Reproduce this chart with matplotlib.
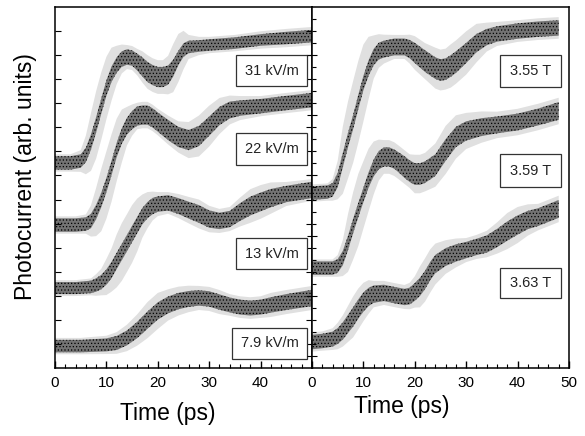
import numpy as np
import matplotlib
matplotlib.use("Agg")
import matplotlib.pyplot as plt
from matplotlib.patches import Rectangle

plt.rcParams['font.family'] = ['Liberation Sans', 'DejaVu Sans']
plt.rcParams['hatch.color'] = 'black'
plt.rcParams['hatch.linewidth'] = 0.5

# traces: time (ps), centre of the band (arb. units),
# half width of the dense core and half width of the sparse scatter
t_31 = [0, 3, 5, 6, 7, 8, 9, 10, 11, 12, 13, 14, 15, 16, 17, 18, 19, 20, 21, 22,
        23, 24, 25, 26, 28, 30, 35, 40, 45, 50]
y_31 = [8.52, 8.52, 8.60, 8.85, 9.39, 10.10, 10.88, 11.63, 12.21, 12.59, 12.84,
        12.92, 12.88, 12.71, 12.51, 12.30, 12.17, 12.09, 12.09, 12.17, 12.46,
        12.88, 13.21, 13.34, 13.38, 13.42, 13.50, 13.63, 13.71, 13.79]
w_31 = [0.28, 0.28, 0.28, 0.3, 0.32, 0.32, 0.32, 0.32, 0.32, 0.32, 0.32, 0.32,
        0.32, 0.35, 0.4, 0.42, 0.42, 0.42, 0.42, 0.4, 0.35, 0.3, 0.28, 0.26, 0.24,
        0.24, 0.24, 0.24, 0.26, 0.26]
s_31 = [0.36, 0.36, 0.45, 0.8, 1.2, 1.4, 1.4, 1.3, 1.1, 0.8, 0.6, 0.5, 0.5, 0.55,
        0.65, 0.7, 0.7, 0.7, 0.7, 0.8, 1.0, 1.0, 0.8, 0.5, 0.38, 0.34, 0.34, 0.36,
        0.38, 0.38]

t_22 = [0, 4, 6, 7, 8, 9, 10, 11, 12, 13, 14, 15, 16, 17, 18, 19, 20, 22, 24, 26,
        28, 30, 32, 34, 36, 40, 45, 50]
y_22 = [5.94, 5.94, 5.98, 6.11, 6.48, 6.98, 7.60, 8.31, 9.06, 9.64, 10.05, 10.30,
        10.47, 10.51, 10.51, 10.39, 10.22, 9.89, 9.60, 9.47, 9.64, 10.05, 10.47,
        10.72, 10.80, 10.88, 11.01, 11.13]
w_22 = [0.28, 0.28, 0.28, 0.3, 0.3, 0.3, 0.3, 0.3, 0.3, 0.32, 0.35, 0.38, 0.4,
        0.4, 0.4, 0.4, 0.4, 0.42, 0.42, 0.42, 0.42, 0.4, 0.38, 0.35, 0.32, 0.3,
        0.3, 0.3]
s_22 = [0.36, 0.36, 0.4, 0.65, 1.0, 1.3, 1.4, 1.4, 1.3, 1.1, 0.8, 0.65, 0.55,
        0.55, 0.55, 0.55, 0.55, 0.6, 0.65, 0.75, 0.85, 0.85, 0.75, 0.6, 0.5,
        0.42, 0.42, 0.42]

t_13 = [0, 4, 7, 8, 9, 10, 11, 12, 13, 14, 15, 16, 17, 18, 19, 20, 22, 24, 26, 28,
        30, 32, 34, 36, 38, 40, 42, 45, 50]
y_13 = [3.32, 3.32, 3.37, 3.45, 3.57, 3.78, 4.07, 4.45, 4.82, 5.19, 5.57, 5.94,
        6.31, 6.56, 6.73, 6.81, 6.86, 6.73, 6.56, 6.40, 6.19, 6.11, 6.19, 6.48,
        6.73, 6.90, 7.06, 7.23, 7.40]
w_13 = [0.25, 0.25, 0.26, 0.28, 0.3, 0.32, 0.34, 0.34, 0.34, 0.34, 0.34, 0.34,
        0.34, 0.34, 0.34, 0.32, 0.32, 0.33, 0.35, 0.37, 0.36, 0.34, 0.34, 0.37,
        0.39, 0.39, 0.38, 0.34, 0.34]
s_13 = [0.33, 0.33, 0.35, 0.45, 0.55, 0.75, 0.9, 1.1, 1.2, 1.2, 1.2, 1.1, 0.9,
        0.75, 0.6, 0.5, 0.45, 0.5, 0.55, 0.6, 0.55, 0.5, 0.5, 0.6, 0.7, 0.7,
        0.65, 0.5, 0.45]

t_79 = [0, 5, 10, 12, 14, 16, 18, 20, 22, 24, 26, 28, 30, 32, 34, 36, 38, 40, 42,
        45, 50]
y_79 = [0.91, 0.91, 0.96, 1.04, 1.25, 1.58, 1.99, 2.37, 2.62, 2.78, 2.87, 2.91,
        2.87, 2.74, 2.62, 2.53, 2.49, 2.53, 2.62, 2.74, 2.91]
w_79 = [0.26, 0.26, 0.27, 0.29, 0.31, 0.34, 0.36, 0.36, 0.35, 0.34, 0.33, 0.32,
        0.32, 0.32, 0.31, 0.31, 0.31, 0.31, 0.32, 0.33, 0.34]
s_79 = [0.34, 0.34, 0.38, 0.45, 0.55, 0.65, 0.75, 0.75, 0.65, 0.6, 0.55, 0.5,
        0.5, 0.5, 0.45, 0.45, 0.45, 0.45, 0.5, 0.5, 0.5]

t_355 = [0, 3, 4, 5, 6, 7, 8, 9, 10, 11, 12, 13, 14, 16, 18, 19, 20, 22, 24, 25,
         26, 27, 28, 30, 32, 34, 36, 40, 44, 48]
y_355 = [7.27, 7.31, 7.40, 7.81, 8.64, 9.47, 10.22, 11.05, 11.84, 12.46, 12.92,
         13.17, 13.25, 13.34, 13.34, 13.25, 13.09, 12.75, 12.46, 12.38, 12.42,
         12.55, 12.71, 13.09, 13.50, 13.75, 13.88, 14.00, 14.08, 14.13]
w_355 = [0.28, 0.28, 0.28, 0.3, 0.3, 0.3, 0.3, 0.3, 0.3, 0.32, 0.34, 0.35, 0.35,
         0.35, 0.35, 0.38, 0.42, 0.45, 0.45, 0.45, 0.45, 0.45, 0.45, 0.42, 0.38,
         0.34, 0.32, 0.32, 0.32, 0.32]
s_355 = [0.36, 0.36, 0.45, 0.8, 1.4, 1.6, 1.7, 1.7, 1.6, 1.3, 0.9, 0.7, 0.6,
         0.5, 0.5, 0.6, 0.7, 0.75, 0.85, 0.85, 0.85, 0.9, 0.9, 0.9, 0.8, 0.6,
         0.5, 0.45, 0.45, 0.45]

t_359 = [0, 4, 5, 6, 7, 8, 9, 10, 11, 12, 13, 14, 15, 16, 17, 18, 19, 20, 21, 22,
         24, 26, 28, 30, 33, 36, 40, 44, 48]
y_359 = [4.15, 4.15, 4.24, 4.57, 5.19, 5.90, 6.56, 7.19, 7.81, 8.31, 8.64, 8.77,
         8.77, 8.68, 8.52, 8.35, 8.18, 8.06, 8.06, 8.14, 8.43, 9.06, 9.60, 9.85,
         10.01, 10.10, 10.22, 10.43, 10.68]
w_359 = [0.28, 0.28, 0.28, 0.3, 0.3, 0.3, 0.3, 0.3, 0.32, 0.35, 0.38, 0.4, 0.4,
         0.4, 0.42, 0.45, 0.45, 0.45, 0.45, 0.45, 0.45, 0.45, 0.42, 0.4, 0.37,
         0.35, 0.35, 0.35, 0.37]
s_359 = [0.36, 0.36, 0.45, 0.75, 1.2, 1.4, 1.5, 1.4, 1.3, 1.1, 0.85, 0.7, 0.7,
         0.7, 0.7, 0.7, 0.7, 0.8, 0.8, 0.8, 0.9, 1.0, 0.9, 0.75, 0.65, 0.55,
         0.55, 0.55, 0.55]

t_363 = [0, 2, 4, 5, 6, 7, 8, 9, 10, 11, 12, 14, 16, 18, 19, 20, 21, 22, 23, 24,
         26, 28, 30, 32, 34, 36, 38, 40, 42, 44, 46, 48]
y_363 = [1.08, 1.12, 1.20, 1.33, 1.54, 1.83, 2.12, 2.45, 2.74, 2.95, 3.07, 3.12,
         3.03, 2.95, 2.99, 3.16, 3.37, 3.66, 4.03, 4.32, 4.61, 4.78, 4.90, 5.03,
         5.15, 5.40, 5.69, 5.94, 6.15, 6.27, 6.44, 6.61]
w_363 = [0.3, 0.3, 0.31, 0.33, 0.36, 0.38, 0.4, 0.4, 0.4, 0.38, 0.36, 0.34, 0.34,
         0.34, 0.35, 0.37, 0.38, 0.38, 0.38, 0.38, 0.37, 0.36, 0.34, 0.34, 0.36,
         0.38, 0.4, 0.4, 0.38, 0.37, 0.37, 0.37]
s_363 = [0.4, 0.4, 0.45, 0.55, 0.65, 0.75, 0.85, 0.85, 0.8, 0.7, 0.55, 0.5, 0.5,
         0.5, 0.55, 0.65, 0.85, 0.9, 0.9, 0.85, 0.7, 0.6, 0.5, 0.5, 0.55, 0.65,
         0.75, 0.75, 0.65, 0.55, 0.55, 0.55]

labels_left = ['31 kV/m', '22 kV/m', '13 kV/m', '7.9 kV/m']
labels_right = ['3.55 T', '3.59 T', '3.63 T']
traces_left = [(t_31, y_31, w_31, s_31), (t_22, y_22, w_22, s_22),
               (t_13, y_13, w_13, s_13), (t_79, y_79, w_79, s_79)]
traces_right = [(t_355, y_355, w_355, s_355), (t_359, y_359, w_359, s_359),
                (t_363, y_363, w_363, s_363)]

# label boxes, axes fractions (x0, x1, y0, y1)
boxes_left = [(0.704, 0.981, 0.781, 0.867), (0.704, 0.981, 0.562, 0.651),
              (0.704, 0.981, 0.274, 0.360), (0.689, 0.981, 0.025, 0.111)]
boxes_right = [(0.732, 0.969, 0.778, 0.867), (0.732, 0.969, 0.501, 0.593),
               (0.732, 0.969, 0.194, 0.277)]


def draw_trace(ax, t, y, w, s):
    t = np.asarray(t, float)
    y = np.asarray(y, float)
    w = np.asarray(w, float)
    s = np.asarray(s, float)
    # sparse scatter around the band
    ax.fill_between(t, y - s, y + s, facecolor='0.88', edgecolor='none',
                    linewidth=0)
    # dense core, speckled
    ax.fill_between(t, y - w, y + w, facecolor='0.45', edgecolor='black',
                    linewidth=0, hatch='.....')


def draw_box(ax, box, text):
    x0, x1, y0, y1 = box
    ax.add_patch(Rectangle((x0, y0), x1 - x0, y1 - y0, transform=ax.transAxes,
                           facecolor='white', edgecolor='#333333', lw=0.9,
                           zorder=5))
    ax.text((x0 + x1) / 2, (y0 + y1) / 2, text, transform=ax.transAxes,
            ha='center', va='center', fontsize=10.5, color='#222222', zorder=6)


fig = plt.figure(figsize=(5.85, 4.36), dpi=100)
ax1 = fig.add_axes([55 / 585, 68 / 436, 257 / 585, 361 / 436])
ax2 = fig.add_axes([312 / 585, 68 / 436, 257 / 585, 361 / 436])

for ax in (ax1, ax2):
    ax.set_xlim(0, 50)
    ax.set_ylim(0, 15)
    ax.set_xticks(np.arange(0, 51, 10))
    ax.set_xticks(np.arange(0, 51, 2), minor=True)
    ax.tick_params(axis='x', which='major', direction='in', length=5, width=1,
                   labelsize=11, pad=6)
    ax.tick_params(axis='x', which='minor', direction='in', length=3, width=0.8)
    for sp in ax.spines.values():
        sp.set_linewidth(1.1)

ax1.set_xticklabels(['0', '10', '20', '30', '40', ''])
ax1.set_yticks(np.arange(1, 15, 1))
ax1.tick_params(axis='y', which='major', direction='in', length=4, width=0.8,
                left=True, right=True, labelleft=False)
ax2.set_yticks(np.arange(0.5, 15, 2.5))
ax2.set_yticks(np.arange(0.5, 15, 0.5), minor=True)
ax2.tick_params(axis='y', which='major', direction='inout', length=7, width=0.8,
                left=True, right=False, labelleft=False)
ax2.tick_params(axis='y', which='minor', direction='in', length=3, width=0.8,
                left=True, right=False)

for tr in traces_left:
    draw_trace(ax1, *tr)
for tr in traces_right:
    draw_trace(ax2, *tr)
for box, lab in zip(boxes_left, labels_left):
    draw_box(ax1, box, lab)
for box, lab in zip(boxes_right, labels_right):
    draw_box(ax2, box, lab)

fig.text(168 / 585, 1 - 413 / 436, 'Time (ps)', ha='center', va='center',
         fontsize=16.5)
fig.text(402 / 585, 1 - 406 / 436, 'Time (ps)', ha='center', va='center',
         fontsize=16.5)
fig.text(26 / 585, 1 - 177 / 436, 'Photocurrent (arb. units)', ha='center',
         va='center', rotation=90, fontsize=16.5)

fig.savefig('out.png', dpi=100)
